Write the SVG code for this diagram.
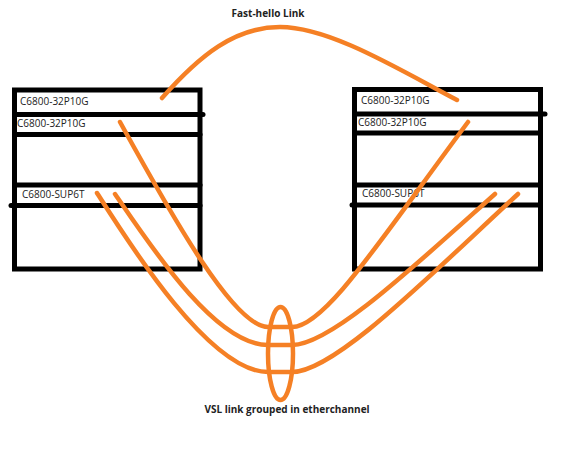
<svg xmlns="http://www.w3.org/2000/svg" width="568" height="452" viewBox="0 0 568 452">
<style>
.box{fill:none;stroke:#000;stroke-width:5}
.ln{stroke:#000;stroke-width:5;stroke-linecap:round}
.lbl{font-family:"Open Sans","DejaVu Sans",sans-serif;font-size:10px;fill:#222}
.ttl{font-family:"Open Sans","DejaVu Sans",sans-serif;font-size:10px;font-weight:bold;fill:#222}
.or{fill:none;stroke:#F58025;stroke-width:4.5;stroke-linecap:round}
</style>
<rect width="568" height="452" fill="#fff"/>
<g id="switch-left">
<rect class="box" x="14.5" y="90" width="185.5" height="179"/>
<line class="ln" x1="14.5" y1="114.5" x2="203" y2="114.5"/>
<line class="ln" x1="14.5" y1="134.5" x2="200" y2="134.5"/>
<line class="ln" x1="14.5" y1="185" x2="200" y2="185"/>
<line class="ln" x1="11" y1="205.5" x2="200" y2="205.5"/>
<text class="lbl" x="20" y="105">C6800-32P10G</text>
<text class="lbl" x="17" y="127">C6800-32P10G</text>
<text class="lbl" x="22" y="198">C6800-SUP6T</text>
</g>
<g id="switch-right">
<rect class="box" x="354.5" y="89.5" width="186" height="179.5"/>
<line class="ln" x1="354.5" y1="114" x2="545" y2="114"/>
<line class="ln" x1="354.5" y1="133" x2="540.5" y2="133"/>
<line class="ln" x1="354.5" y1="185" x2="540.5" y2="185"/>
<line class="ln" x1="352" y1="205" x2="540.5" y2="205"/>
<text class="lbl" x="361" y="104">C6800-32P10G</text>
<text class="lbl" x="358" y="126">C6800-32P10G</text>
<text class="lbl" x="362" y="197">C6800-SUP6T</text>
</g>
<g id="connectors">
<path class="or" d="M162,98 C200,55 235,27 280,27 C330,27 400,70 457,100"/>
<path class="or" d="M120,122 C175,222 235,327 268,327 L292,327 C325,327 380,240 468,122"/>
<path class="or" d="M115,194 C150,245 215,345 268,345 L292,345 C330,345 410,270 495,194"/>
<path class="or" d="M97,193 C130,245 210,372 268,372 L292,372 C335,372 430,275 518,194"/>
<ellipse class="or" cx="280.5" cy="353.5" rx="12.5" ry="46.5"/>
</g>
<text class="ttl" x="268" y="17" text-anchor="middle">Fast-hello Link</text>
<text class="ttl" x="287" y="413" text-anchor="middle">VSL link grouped in etherchannel</text>
</svg>
